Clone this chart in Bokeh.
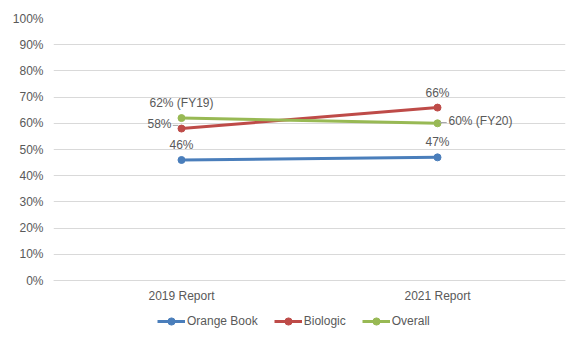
from bokeh.plotting import figure
from bokeh.models import Range1d, FixedTicker, Legend, LegendItem, ColumnDataSource, CategoricalAxis
from bokeh.transform import dodge
from bokeh.core.properties import value
from bokeh.embed import file_html
from bokeh.resources import INLINE

categories = ["2019 Report", "2021 Report"]
orange_book = [46, 47]
biologic = [58, 66]
overall = [62, 60]
series_names = ["Orange Book", "Biologic", "Overall"]
series_colors = ["#4A7EBB", "#BE4B48", "#98B954"]
labels_orange = ["46%", "47%"]
labels_biologic = ["58%", "66%"]
labels_overall = ["62% (FY19)", "60% (FY20)"]
y_ticks = [0, 10, 20, 30, 40, 50, 60, 70, 80, 90, 100]

FONT = "Liberation Sans"
TXT = "#595959"
FS = "12px"

p = figure(width=579, height=353, x_range=categories, y_range=Range1d(-24.8, 100),
           output_backend="svg", toolbar_location=None, x_axis_location=None,
           min_border_left=53, min_border_right=14, min_border_top=18, min_border_bottom=8)
p.outline_line_color = None
p.background_fill_color = "white"
p.border_fill_color = "white"

xax = CategoricalAxis(fixed_location=0)
p.add_layout(xax, "below")

p.yaxis.ticker = FixedTicker(ticks=y_ticks)
p.yaxis.major_label_overrides = {t: f"{t}%" for t in y_ticks}
p.yaxis.axis_line_color = None
p.yaxis.major_tick_line_color = None
p.yaxis.major_tick_out = 0
p.yaxis.minor_tick_line_color = None
p.yaxis.major_label_text_font = FONT
p.yaxis.major_label_text_font_size = FS
p.yaxis.major_label_text_color = TXT
p.yaxis.major_label_standoff = 10

xax.axis_line_color = "#D9D9D9"
xax.major_tick_line_color = None
xax.minor_tick_line_color = None
xax.major_tick_out = 0
xax.major_label_text_font = FONT
xax.major_label_text_font_size = FS
xax.major_label_text_color = TXT
xax.major_label_standoff = 8

p.xgrid.grid_line_color = None
p.ygrid.grid_line_color = "#D9D9D9"
p.ygrid.grid_line_width = 1

items = []
for name, vals, col in zip(series_names, [orange_book, biologic, overall], series_colors):
    src = ColumnDataSource(dict(x=categories, y=vals))
    l = p.line("x", "y", source=src, line_color=col, line_width=3)
    s = p.scatter("x", "y", source=src, size=7, fill_color=col, line_color=col)
    items.append(LegendItem(label=name, renderers=[l, s]))

legend = Legend(items=items, orientation="horizontal", location=(104, 15),
                label_text_font=FONT, label_text_font_size=FS, label_text_color=TXT,
                glyph_width=28, label_standoff=2, spacing=16, border_line_color=None,
                background_fill_alpha=0, padding=0, margin=0, label_height=18, glyph_height=18)
p.add_layout(legend, "center")

def lab(xs, ys, texts, **kw):
    p.text(x=xs, y=ys, text=texts, text_font=value(FONT), text_font_size=FS,
           text_color=TXT, **kw)

# labels above points
lab([categories[0]], [orange_book[0]], [labels_orange[0]], text_align="center", text_baseline="middle", y_offset=-15)
lab([categories[1]], [orange_book[1]], [labels_orange[1]], text_align="center", text_baseline="middle", y_offset=-15)
lab([categories[1]], [biologic[1]], [labels_biologic[1]], text_align="center", text_baseline="middle", y_offset=-15)
lab([categories[0]], [overall[0]], [labels_overall[0]], text_align="center", text_baseline="middle", y_offset=-15)
# label left of 2019 biologic
lab([categories[0]], [biologic[0]], [labels_biologic[0]], text_align="right", text_baseline="middle", x_offset=-10, y_offset=-5)
# label right of 2021 overall
lab([categories[1]], [overall[1]], [labels_overall[1]], text_align="left", text_baseline="middle", x_offset=11, y_offset=-2)

# leader lines
p.segment(x0=dodge("x", -0.034, range=p.x_range), y0="y", x1=dodge("x", -0.012, range=p.x_range), y1="y",
          source=ColumnDataSource(dict(x=[categories[0]], y=[biologic[0] + 1.2])),
          line_color="#A6A6A6", line_width=1)
p.segment(x0=dodge("x", 0.008, range=p.x_range), y0="y", x1=dodge("x", 0.036, range=p.x_range), y1="y",
          source=ColumnDataSource(dict(x=[categories[1]], y=[overall[1] + 0.3])),
          line_color="#A6A6A6", line_width=1)

open("out.html", "w").write(file_html(p, INLINE))
